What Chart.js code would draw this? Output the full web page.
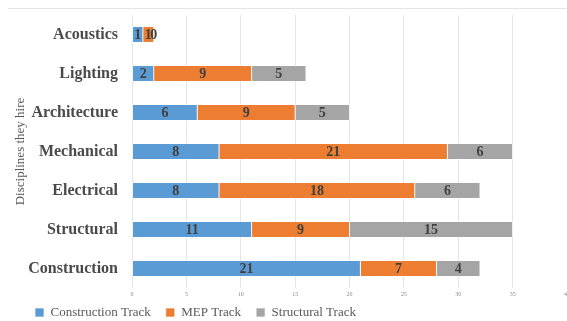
<!DOCTYPE html>
<html>
<head>
<meta charset="utf-8">
<script src="https://cdn.jsdelivr.net/npm/chart.js@4/dist/chart.umd.min.js"></script>
<style>
    html, body { margin: 0; padding: 0; background: #fff; overflow: hidden; }
    #wrap { width: 573px; height: 321px; }
</style>
</head>
<body>
<div id="wrap"><canvas id="chart" width="573" height="321"></canvas></div>
<script>
//categories (top to bottom)
var disciplines = ['Acoustics', 'Lighting', 'Architecture', 'Mechanical', 'Electrical', 'Structural', 'Construction'];

//series values
var constructionTrack = [1, 2, 6, 8, 8, 11, 21];
var mepTrack          = [1, 9, 9, 21, 18, 9, 7];
var structuralTrack   = [0, 5, 5, 6, 6, 15, 4];

//tick labels on the value axis
var xTicks = [0, 5, 10, 15, 20, 25, 30, 35, 40];

var serif = '"Liberation Serif", "Times New Roman", serif';

//================================================================================
// small plugins: frame line, value labels, legend placement
//================================================================================

var frameLine = {
    id: 'frameLine',
    beforeDraw: function (chart) {
        var ctx = chart.ctx;
        ctx.save();
        ctx.strokeStyle = '#e3e3e3';
        ctx.lineWidth = 1;
        ctx.beginPath();
        ctx.moveTo(8, 8.5);
        ctx.lineTo(chart.width, 8.5);
        ctx.stroke();
        ctx.restore();
    }
};

var valueLabels = {
    id: 'valueLabels',
    afterDatasetsDraw: function (chart) {
        var ctx = chart.ctx;
        ctx.save();
        ctx.font = 'bold 14px ' + serif;
        ctx.fillStyle = '#404040';
        ctx.textAlign = 'center';
        ctx.textBaseline = 'middle';
        chart.data.datasets.forEach(function (ds, i) {
            var meta = chart.getDatasetMeta(i);
            meta.data.forEach(function (bar, j) {
                var v = ds.data[j];
                var cx = (bar.x + bar.base) / 2;
                ctx.fillText(String(v), cx, bar.y + 1);
            });
        });
        ctx.restore();
    }
};

//legend sits a bit lower and further right than chart.js puts it
var legendPlace = {
    id: 'legendPlace',
    afterLayout: function (chart) {
        var lg = chart.legend;
        var h = lg.bottom - lg.top;
        lg.left += 20;
        lg.top = 291;
        lg.bottom = lg.top + h;
    }
};

var ctx = document.getElementById('chart').getContext('2d');
var chart = new Chart(ctx, {
    type: 'bar',
    data: {
        labels: disciplines,
        datasets: [
            { label: 'Construction Track', data: constructionTrack, backgroundColor: '#5B9BD5' },
            { label: 'MEP Track',          data: mepTrack,          backgroundColor: '#ED7D31' },
            { label: 'Structural Track',   data: structuralTrack,   backgroundColor: '#A5A5A5' }
        ]
    },
    options: {
        indexAxis: 'y',
        responsive: false,
        animation: false,
        layout: { padding: { top: 15, left: 0, right: 0, bottom: -17 } },
        datasets: {
            bar: {
                barThickness: 16,
                borderColor: 'rgba(255,255,255,0.85)',
                borderWidth: 0.8,
                borderSkipped: false
            }
        },
        scales: {
            x: {
                stacked: true,
                min: 0,
                max: 40,
                afterBuildTicks: function (scale) {
                    scale.ticks = xTicks.map(function (v) { return { value: v }; });
                },
                afterFit: function (scale) { scale.height = 12; },
                grid: { color: '#e4e4e4', drawTicks: false },
                border: { display: false },
                ticks: {
                    font: { family: serif, size: 6 },
                    color: '#8a8a8a',
                    padding: 3,
                    maxRotation: 0
                }
            },
            y: {
                stacked: true,
                afterFit: function (scale) {
                    scale.width = 132;
                    scale.paddingTop = 0;
                    scale.paddingBottom = 0;
                },
                grid: { display: false, drawTicks: false },
                border: { display: false },
                ticks: {
                    font: { family: serif, size: 16, weight: 'bold' },
                    color: '#4a4a4a',
                    padding: 14
                },
                title: {
                    display: true,
                    text: 'Disciplines they hire',
                    font: { family: serif, size: 13 },
                    color: '#595959',
                    padding: { top: 13, bottom: 0 }
                }
            }
        },
        plugins: {
            tooltip: { enabled: false },
            legend: {
                position: 'bottom',
                align: 'start',
                labels: {
                    boxWidth: 9,
                    boxHeight: 9,
                    padding: 15,
                    color: '#595959',
                    font: { family: serif, size: 13 }
                }
            }
        }
    },
    plugins: [frameLine, valueLabels, legendPlace]
});
</script>
</body>
</html>
